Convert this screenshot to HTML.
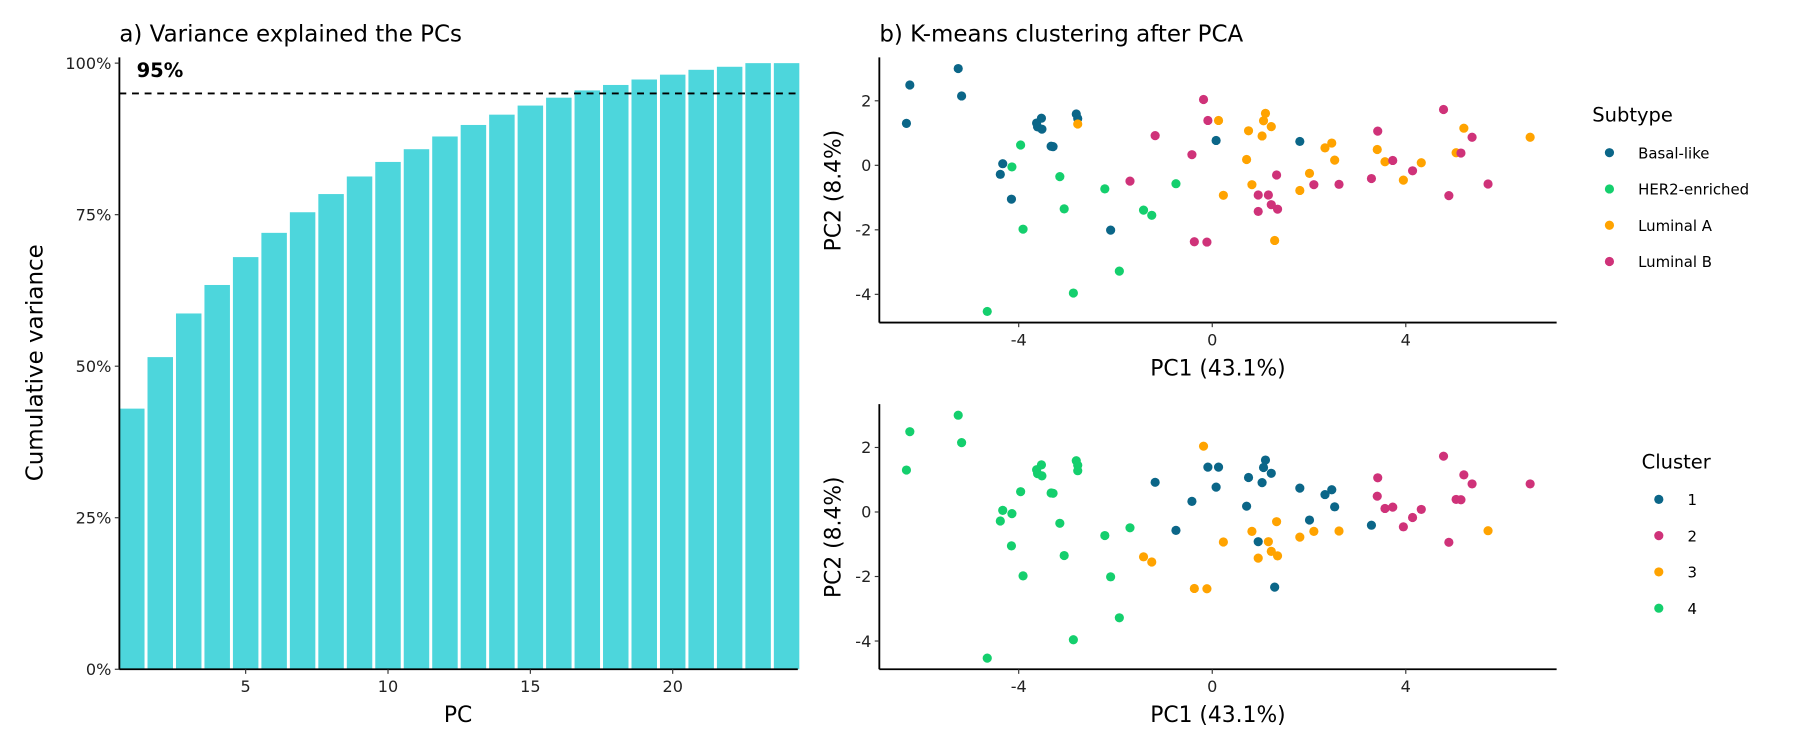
<!DOCTYPE html>
<html><head><meta charset="utf-8"><style>
html,body{margin:0;padding:0;background:#fff;}
svg{display:block;font-family:"DejaVu Sans","Liberation Sans",sans-serif;}
</style></head><body>
<svg id="chart" width="1800" height="750" viewBox="0 0 1568 653.33" xmlns="http://www.w3.org/2000/svg">
<g id="pa"></g>
<g id="pb"></g>
<g id="pc"></g>
</svg>
<script>
const pcs = [1,2,3,4,5,6,7,8,9,10,11,12,13,14,15,16,17,18,19,20,21,22,23,24];
const cumVar = [43.0,51.5,58.7,63.4,68.0,72.0,75.4,78.4,81.3,83.7,85.8,87.9,89.8,91.5,93.0,94.3,95.5,96.4,97.3,98.1,98.9,99.4,100,100];
const yTicksA = [0,25,50,75,100];
const xTicksA = [5,10,15,20];
const threshold = 95;

const pc1 = [-5.25,-6.25,-5.18,-6.32,-3.53,-3.63,-3.61,-3.52,-2.81,-2.78,-3.33,-3.29,-4.33,-4.38,-4.15,-2.10,0.08,1.81,
 -3.96,-4.14,-3.15,-3.06,-3.91,-2.22,-0.75,-1.42,-1.25,-1.92,-2.87,-4.65,
 -2.78,0.13,1.10,1.06,0.75,1.22,1.03,2.47,2.33,2.53,0.71,2.01,0.82,0.23,1.81,1.29,3.41,3.57,4.32,3.95,5.20,5.04,6.57,
 -0.18,-0.09,-1.18,-0.42,-1.70,1.33,2.10,2.62,0.95,1.16,1.22,1.35,0.95,-0.37,-0.11,3.42,3.73,3.29,4.14,4.78,5.37,5.14,5.70,4.89];
const pc2 = [3.00,2.49,2.15,1.30,1.46,1.31,1.19,1.12,1.59,1.45,0.59,0.58,0.05,-0.28,-1.05,-2.01,0.77,0.74,
 0.63,-0.05,-0.35,-1.35,-1.98,-0.73,-0.57,-1.39,-1.55,-3.28,-3.96,-4.53,
 1.28,1.39,1.61,1.38,1.07,1.20,0.91,0.69,0.54,0.16,0.18,-0.25,-0.60,-0.93,-0.78,-2.33,0.49,0.11,0.08,-0.46,1.15,0.39,0.87,
 2.04,1.39,0.92,0.33,-0.49,-0.30,-0.60,-0.59,-0.92,-0.92,-1.22,-1.36,-1.43,-2.37,-2.38,1.06,0.15,-0.41,-0.17,1.73,0.87,0.38,-0.58,-0.94];
const subtype = [0,0,0,0,0,0,0,0,0,0,0,0,0,0,0,0,0,0,
 1,1,1,1,1,1,1,1,1,1,1,1,
 2,2,2,2,2,2,2,2,2,2,2,2,2,2,2,2,2,2,2,2,2,2,2,
 3,3,3,3,3,3,3,3,3,3,3,3,3,3,3,3,3,3,3,3,3,3,3,3];
const cluster = [4,4,4,4,4,4,4,4,4,4,4,4,4,4,4,4,1,1,
 4,4,4,4,4,4,1,3,3,4,4,4,
 4,1,1,1,1,1,1,1,1,1,1,1,3,3,3,1,2,2,2,2,2,2,2,
 3,1,1,1,4,3,3,3,1,3,3,3,3,3,3,2,2,1,2,2,2,2,3,2];
const subtypeLabels = ["Basal-like","HER2-enriched","Luminal A","Luminal B"];
const clusterLabels = ["1","2","3","4"];
const scatterTicksX = [-4,0,4];
const scatterTicksY = [2,0,-2,-4];

const NS="http://www.w3.org/2000/svg";
const SUB_COLORS=["#0b6688","#14cf6d","#ffa300","#cf3279"];
const CL_COLORS=["#0b6688","#cf3279","#ffa300","#14cf6d"];
function el(tag,attrs,parent,text){const e=document.createElementNS(NS,tag);for(const k in attrs)e.setAttribute(k,attrs[k]);if(text!==undefined)e.textContent=text;parent.appendChild(e);return e;}

// Panel A
const pa=document.getElementById('pa');
const ax0=104, ax1=695, ay0=583, ay1=55;
const xA=v=>214+(v-5)*24.8;
const yA=v=>ay0-(v/100)*(ay0-ay1);
let t=el('text',{x:104,y:36,'font-size':20,fill:'#000'},pa,'a) Variance explained the PCs');

pcs.forEach((p,i)=>{const b=el('rect',{x:xA(p)-11.1,y:yA(cumVar[i]),width:22.2,height:ay0-yA(cumVar[i]),fill:'#4dd6dc'},pa);

});
let l=el('line',{x1:ax0,x2:ax1,y1:yA(threshold),y2:yA(threshold),stroke:'#000','stroke-width':1.6,'stroke-dasharray':'6,5'},pa);

t=el('text',{x:119,y:67,'font-size':17,'font-weight':'bold',fill:'#000'},pa,threshold+'%');

l=el('line',{x1:ax0,x2:ax0,y1:ay1-5,y2:ay0,stroke:'#000','stroke-width':1.6},pa);

l=el('line',{x1:ax0,x2:ax1,y1:ay0,y2:ay0,stroke:'#000','stroke-width':1.6},pa);

yTicksA.forEach(v=>{el('line',{x1:ax0-4,x2:ax0,y1:yA(v),y2:yA(v),stroke:'#333'},pa);
const tt=el('text',{x:ax0-7,y:yA(v)+5,'font-size':14,'text-anchor':'end',fill:'#222'},pa,v+'%');
});
xTicksA.forEach(v=>{el('line',{x1:xA(v),x2:xA(v),y1:ay0,y2:ay0+4,stroke:'#333'},pa);
const tt=el('text',{x:xA(v),y:ay0+20,'font-size':14,'text-anchor':'middle',fill:'#222'},pa,v);
});
t=el('text',{x:399,y:629,'font-size':19,'text-anchor':'middle',fill:'#000'},pa,'PC');

t=el('text',{x:0,y:0,'font-size':20,'text-anchor':'middle',fill:'#000',transform:'translate(37,316) rotate(-90)'},pa,'Cumulative variance');


// Scatter panels
function scatter(g,top,bottom,groups,labels,colors,legTitle,legX,legY,title){
  const x0=766,x1=1356;
  const sx=v=>1056+v*42.15;
  const y0=top+94;
  const sy=v=>y0-v*28.1;
  if(title){const tt=el('text',{x:766,y:36,'font-size':20,fill:'#000'},g,title);
  }
  pc1.forEach((v,i)=>{const c=el('circle',{cx:sx(v),cy:sy(pc2[i]),r:4,fill:colors[groups[i]]},g);
  
  });
  let a=el('line',{x1:x0,x2:x0,y1:top,y2:bottom,stroke:'#000','stroke-width':1.6},g);
  
  a=el('line',{x1:x0,x2:x1,y1:bottom,y2:bottom,stroke:'#000','stroke-width':1.6},g);
  
  scatterTicksY.forEach(v=>{el('line',{x1:x0-4,x2:x0,y1:sy(v),y2:sy(v),stroke:'#333'},g);
  const tt=el('text',{x:x0-7,y:sy(v)+5,'font-size':14,'text-anchor':'end',fill:'#222'},g,v);
  });
  scatterTicksX.forEach(v=>{el('line',{x1:sx(v),x2:sx(v),y1:bottom,y2:bottom+4,stroke:'#333'},g);
  const tt=el('text',{x:sx(v),y:bottom+20,'font-size':14,'text-anchor':'middle',fill:'#222'},g,v);
  });
  let tt=el('text',{x:1061,y:bottom+46,'font-size':19,'text-anchor':'middle',fill:'#000'},g,'PC1 (43.1%)');
  
  tt=el('text',{x:0,y:0,'font-size':19,'text-anchor':'middle',fill:'#000',transform:'translate(732,'+(top+116)+') rotate(-90)'},g,'PC2 (8.4%)');
  
  const lg=el('g',{},g);
  
  tt=el('text',{x:legX,y:legY,'font-size':17,fill:'#000'},lg,legTitle);
  
  labels.forEach((s,i)=>{const cy=legY+32+i*31.6;
    const c=el('circle',{cx:legX+15,cy:cy-5,r:4,fill:colors[i]},lg);
    
    const e=el('text',{x:legX+40,y:cy,'font-size':13,fill:'#000'},lg,s);
    });
}
scatter(document.getElementById('pb'),50,281,subtype,subtypeLabels,SUB_COLORS,'Subtype',1387,106,'b) K-means clustering after PCA');
scatter(document.getElementById('pc'),352,583,cluster.map(c=>c-1),clusterLabels,CL_COLORS,'Cluster',1430,408,null);
</script>
</body></html>
